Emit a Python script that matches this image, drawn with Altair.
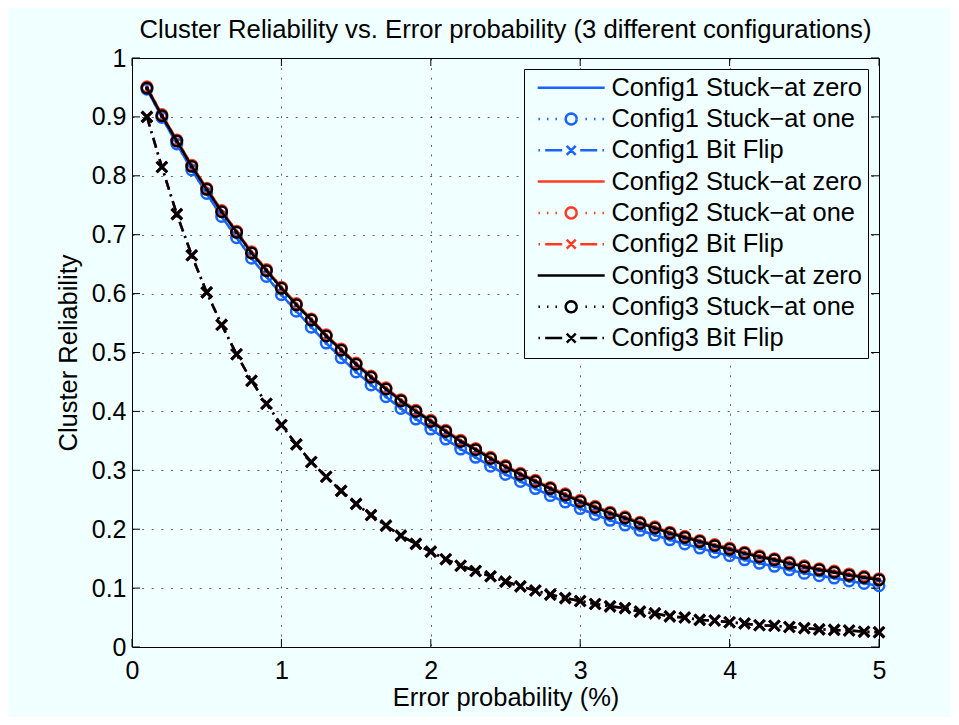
import math
import altair as alt
import pandas as pd

# ---------------- data ----------------
X = [0.1, 0.2, 0.3, 0.4, 0.5, 0.6, 0.7, 0.8, 0.9, 1.0,
     1.1, 1.2, 1.3, 1.4, 1.5, 1.6, 1.7, 1.8, 1.9, 2.0,
     2.1, 2.2, 2.3, 2.4, 2.5, 2.6, 2.7, 2.8, 2.9, 3.0,
     3.1, 3.2, 3.3, 3.4, 3.5, 3.6, 3.7, 3.8, 3.9, 4.0,
     4.1, 4.2, 4.3, 4.4, 4.5, 4.6, 4.7, 4.8, 4.9, 5.0]

config1_stuck = [0.947, 0.899, 0.854, 0.810, 0.770, 0.731, 0.695, 0.660, 0.629, 0.598,
                 0.570, 0.543, 0.516, 0.491, 0.467, 0.445, 0.425, 0.405, 0.387, 0.370,
                 0.353, 0.336, 0.322, 0.307, 0.293, 0.281, 0.269, 0.257, 0.246, 0.235,
                 0.225, 0.215, 0.207, 0.198, 0.190, 0.182, 0.175, 0.168, 0.161, 0.155,
                 0.148, 0.142, 0.137, 0.131, 0.125, 0.121, 0.117, 0.112, 0.108, 0.104]

config2_stuck = [0.951, 0.904, 0.861, 0.818, 0.779, 0.741, 0.706, 0.671, 0.641, 0.611,
                 0.583, 0.557, 0.530, 0.506, 0.482, 0.460, 0.440, 0.420, 0.402, 0.385,
                 0.368, 0.351, 0.337, 0.322, 0.308, 0.295, 0.283, 0.271, 0.260, 0.249,
                 0.239, 0.229, 0.221, 0.212, 0.204, 0.195, 0.188, 0.181, 0.174, 0.168,
                 0.161, 0.155, 0.150, 0.144, 0.138, 0.133, 0.129, 0.124, 0.120, 0.116]

config3_stuck = [0.949, 0.902, 0.859, 0.816, 0.777, 0.739, 0.704, 0.669, 0.639, 0.609,
                 0.581, 0.555, 0.528, 0.504, 0.480, 0.458, 0.438, 0.418, 0.400, 0.383,
                 0.366, 0.349, 0.335, 0.320, 0.306, 0.293, 0.281, 0.269, 0.258, 0.247,
                 0.237, 0.227, 0.219, 0.210, 0.202, 0.193, 0.186, 0.179, 0.172, 0.166,
                 0.159, 0.153, 0.148, 0.142, 0.136, 0.131, 0.127, 0.122, 0.118, 0.114]

bit_flip = [0.900, 0.815, 0.735, 0.665, 0.602, 0.547, 0.497, 0.452, 0.413, 0.377,
            0.344, 0.314, 0.289, 0.265, 0.243, 0.224, 0.206, 0.189, 0.175, 0.162,
            0.149, 0.138, 0.129, 0.120, 0.111, 0.103, 0.096, 0.089, 0.083, 0.078,
            0.073, 0.069, 0.066, 0.060, 0.057, 0.052, 0.050, 0.046, 0.045, 0.042,
            0.040, 0.037, 0.036, 0.034, 0.032, 0.030, 0.029, 0.028, 0.026, 0.025]

names = ["Config1 Stuck\u2212at zero", "Config1 Stuck\u2212at one", "Config1 Bit Flip",
         "Config2 Stuck\u2212at zero", "Config2 Stuck\u2212at one", "Config2 Bit Flip",
         "Config3 Stuck\u2212at zero", "Config3 Stuck\u2212at one", "Config3 Bit Flip"]
series_values = [config1_stuck, config1_stuck, bit_flip,
                 config2_stuck, config2_stuck, bit_flip,
                 config3_stuck, config3_stuck, bit_flip]
kinds = ["zero", "one", "flip"] * 3

x_ticks = [0, 1, 2, 3, 4, 5]
y_ticks = [0, 0.1, 0.2, 0.3, 0.4, 0.5, 0.6, 0.7, 0.8, 0.9, 1.0]

TITLE = "Cluster Reliability vs. Error probability (3 different configurations)"
X_TITLE = "Error probability (%)"
Y_TITLE = "Cluster Reliability"

# ---------------- style ----------------
FONT = "Liberation Sans"
BG = "#F0FFFF"
BLUE = "#1964FF"
RED = "#FF3B24"
BLACK = "#000000"
colors = [BLUE] * 3 + [RED] * 3 + [BLACK] * 3
FS = 25
W, H = 747, 589
LW = 2.5

rows = []
for n, vals in zip(names, series_values):
    for xv, yv in zip(X, vals):
        rows.append({"x": xv, "y": yv, "series": n})
df = pd.DataFrame(rows)

xs = alt.Scale(domain=[0, 5], nice=False, zero=False)
ys = alt.Scale(domain=[0, 1], nice=False, zero=False)

xenc = alt.X("x:Q", scale=xs, axis=alt.Axis(
    values=x_ticks, format="~g", title=X_TITLE, labelPadding=11,
    titlePadding=2, labelFlush=False, labelOverlap=False))
yenc = alt.Y("y:Q", scale=ys, axis=alt.Axis(
    values=y_ticks, format=".1~f", title=Y_TITLE, labelPadding=6,
    titlePadding=10, labelFlush=False, labelOverlap=False))

dashes = {"zero": None, "one": [2, 6], "flip": [10, 5, 2, 5]}
X_PATH = "M-1,-1L1,1M-1,1L1,-1"

base = alt.Chart(df)
layers = []
for n, c, k in zip(names, colors, kinds):
    sub = base.transform_filter(alt.datum.series == n)
    kw = dict(color=c, strokeWidth=LW)
    if dashes[k]:
        kw["strokeDash"] = dashes[k]
    layers.append(sub.mark_line(**kw).encode(x=xenc, y=yenc))
    if k == "zero":
        layers.append(sub.mark_point(shape="circle", filled=True, size=14,
                                     color=c, opacity=1).encode(x=xenc, y=yenc))
    elif k == "one":
        layers.append(sub.mark_point(shape="circle", filled=False, size=110,
                                     strokeWidth=LW, color=c, opacity=1).encode(x=xenc, y=yenc))
    else:
        layers.append(sub.mark_point(shape=X_PATH, filled=False, size=110,
                                     strokeWidth=3, color=c, opacity=1).encode(x=xenc, y=yenc))

# ---------- legend symbols (line + marker, MATLAB style) ----------
def seg(a, b):
    return f"M{a:.2f},0L{b:.2f},0"

def dot(cx):
    return seg(cx - 0.15, cx + 0.15)

def circ(cx, r=1.1, n=24):
    pts = [(cx + r * math.cos(2 * math.pi * i / n), r * math.sin(2 * math.pi * i / n)) for i in range(n + 1)]
    return "M" + "L".join(f"{px:.3f},{py:.3f}" for px, py in pts)

CX = 5.7
sym_zero = seg(-1, 12.4)
sym_one = "".join(dot(v) for v in [-0.7, 1.0, 2.7, 8.7, 10.4, 12.1]) + circ(CX)
sym_flip = dot(-0.7) + seg(0.5, 3.9) + "M4.8,-0.9L6.6,0.9M4.8,0.9L6.6,-0.9" + seg(7.5, 10.9) + dot(12.1)
sym_map = {"zero": sym_zero, "one": sym_one, "flip": sym_flip}
legend_shapes = [sym_map[k] for k in kinds]

leg = alt.Legend(title=None, orient="none", legendX=392, legendY=11,
                 fillColor=BG, strokeColor="black", padding=6, cornerRadius=0,
                 labelFont=FONT, labelFontSize=25.4, labelColor="black", labelLimit=600,
                 labelOffset=56, symbolOffset=0, symbolSize=100, symbolStrokeWidth=LW,
                 rowPadding=4.3)

legend_layer = base.transform_filter("false").mark_point(filled=False, strokeWidth=LW, opacity=1).encode(
    x=xenc, y=yenc,
    color=alt.Color("series:N", scale=alt.Scale(domain=names, range=colors), legend=leg),
    shape=alt.Shape("series:N", scale=alt.Scale(domain=names, range=legend_shapes), legend=leg),
)

# ---------- inward ticks on all four sides ----------
TL = 8
xt = pd.DataFrame({"x": x_ticks})
yt = pd.DataFrame({"y": y_ticks})
rs = dict(color="black", strokeWidth=1)
tick_layers = [
    alt.Chart(xt).mark_rule(**rs).encode(x=xenc, y=alt.value(H), y2=alt.value(H - TL)),
    alt.Chart(xt).mark_rule(**rs).encode(x=xenc, y=alt.value(0), y2=alt.value(TL)),
    alt.Chart(yt).mark_rule(**rs).encode(y=yenc, x=alt.value(0), x2=alt.value(TL)),
    alt.Chart(yt).mark_rule(**rs).encode(y=yenc, x=alt.value(W), x2=alt.value(W - TL)),
]

chart = alt.layer(*layers, legend_layer, *tick_layers).properties(
    width=W, height=H, background=BG,
    padding={"left": 124, "top": 50, "right": 72, "bottom": 70},
    autosize=alt.AutoSizeParams(type="none"),
    title=alt.Title(TITLE, font=FONT, fontSize=25.7, fontWeight="normal", color="black",
                    anchor="middle", offset=0, dy=18, baseline="alphabetic"),
).configure_view(
    stroke="black", strokeWidth=1
).configure_axis(
    grid=True, gridColor="#000000", gridOpacity=0.6, gridDash=[2, 7.6], gridWidth=1,
    domain=False, ticks=False, tickSize=0,
    labelFont=FONT, labelFontSize=FS, labelColor="black",
    titleFont=FONT, titleFontSize=25.5, titleFontWeight="normal", titleColor="black",
)

chart.save("out.html", embed_options={"renderer": "svg", "actions": False})
